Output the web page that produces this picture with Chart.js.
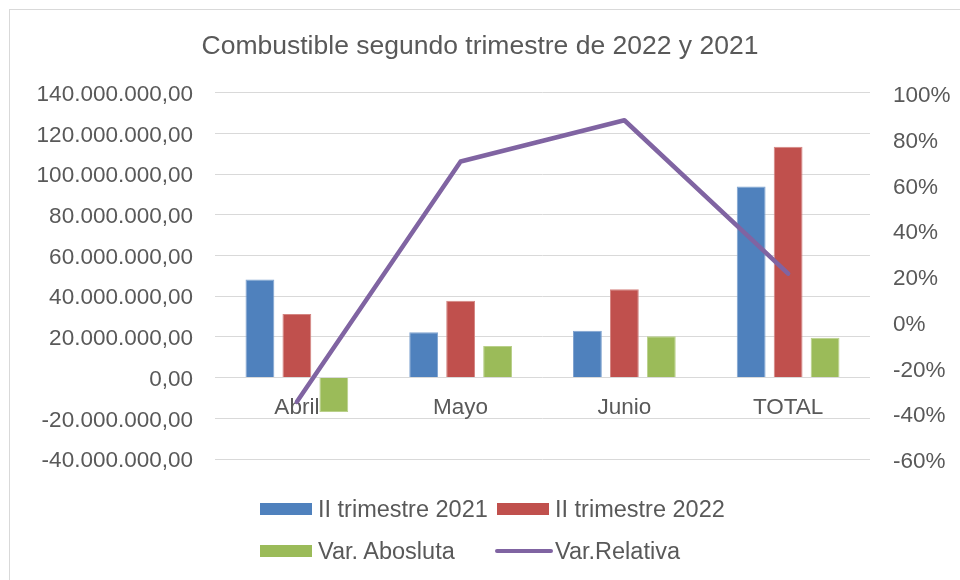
<!DOCTYPE html>
<html><head><meta charset="utf-8">
<script src="https://cdn.jsdelivr.net/npm/chart.js@4/dist/chart.umd.min.js"></script>
<style>
html,body{margin:0;padding:0;background:#fff;}
#wrap{position:relative;width:960px;height:580px;overflow:hidden;}
#frame{position:absolute;left:9px;top:9px;width:1000px;height:640px;border:1px solid #D9D9D9;box-sizing:border-box;}
canvas{position:absolute;left:0;top:0;}
#legend{position:absolute;left:260px;top:488px;display:grid;grid-template-columns:237px auto;grid-auto-rows:42px;font-family:"Liberation Sans",Arial,sans-serif;font-size:23.5px;color:#595959;}
.item{display:flex;align-items:center;white-space:nowrap;}
.box{width:52px;height:12px;margin-right:6px;}
.ln{width:58px;height:4px;border-radius:2px;margin-right:2px;}
</style></head><body>
<div id="wrap"><div id="frame"></div><canvas id="c" width="960" height="580"></canvas><div id="legend"></div></div>
<script>
const categories = ['Abril', 'Mayo', 'Junio', 'TOTAL'];
const trimestre2021 = [48200000, 22300000, 23100000, 93900000];
const trimestre2022 = [31300000, 37800000, 43400000, 113500000];
const varAbsoluta = [-16900000, 15500000, 20300000, 19600000];
const varRelativa = [-35, 70, 88, 21];
const seriesNames = ['II trimestre 2021', 'II trimestre 2022', 'Var. Abosluta', 'Var.Relativa'];
const titleText = 'Combustible segundo trimestre de 2022 y 2021';

const colors = ['#4F81BD', '#C0504D', '#9BBB59', '#8064A2'];
const edges = ['#7FA3D0', '#D48582', '#B9D08A', '#8064A2'];
const textColor = '#595959';
const fontFamily = '"Liberation Sans", Arial, sans-serif';

function fmtMoney(v) {
  const neg = v < 0;
  const s = Math.abs(Math.round(v)).toString().replace(/\B(?=(\d{3})+(?!\d))/g, '.');
  return (neg ? '-' : '') + s + ',00';
}

const barSeries = [trimestre2021, trimestre2022, varAbsoluta];
const datasets = barSeries.map((d, i) => ({
  type: 'bar',
  label: seriesNames[i],
  data: d,
  backgroundColor: colors[i],
  borderColor: edges[i],
  borderWidth: 1,
  yAxisID: 'y',
  order: 1,
  categoryPercentage: 0.677,
  barPercentage: 0.78
}));
datasets.push({
  type: 'line',
  label: seriesNames[3],
  data: varRelativa,
  borderColor: colors[3],
  backgroundColor: colors[3],
  borderWidth: 4.5,
  pointRadius: 0,
  borderCapStyle: 'round',
  borderJoinStyle: 'round',
  tension: 0,
  yAxisID: 'y1',
  order: 0
});

const chart = new Chart(document.getElementById('c'), {
  data: { labels: categories, datasets },
  options: {
    responsive: false,
    animation: false,
    layout: { padding: { left: 0, right: 0, top: 0, bottom: 121 } },
    plugins: {
      legend: { display: false },
      tooltip: { enabled: false },
      title: {
        display: true,
        text: titleText,
        color: textColor,
        font: { family: fontFamily, size: 26.5, weight: 'normal' },
        padding: { top: 31, bottom: 30 }
      }
    },
    scales: {
      x: {
        position: { y: 0 },
        offset: true,
        grid: { display: false, drawTicks: false },
        border: { display: false },
        ticks: { color: textColor, font: { family: fontFamily, size: 22.5 }, padding: 17, maxRotation: 0, autoSkip: false }
      },
      y: {
        position: 'left',
        min: -40000000,
        max: 140000000,
        grid: { color: '#D9D9D9', lineWidth: 1, drawTicks: false },
        border: { display: false },
        afterFit: s => { s.width = 215; },
        ticks: {
          stepSize: 20000000,
          padding: 22,
          labelOffset: 2,
          color: textColor,
          font: { family: fontFamily, size: 22.5 },
          callback: v => fmtMoney(v)
        }
      },
      y1: {
        position: 'right',
        min: -60,
        max: 100,
        grid: { display: false, drawTicks: false },
        border: { display: false },
        afterFit: s => { s.width = 90; },
        ticks: {
          stepSize: 20,
          padding: 23,
          labelOffset: 3,
          color: textColor,
          font: { family: fontFamily, size: 22.5 },
          callback: v => v + '%'
        }
      }
    }
  }
});

// legend built from the chart's datasets
const legendEl = document.getElementById('legend');
chart.data.datasets.forEach(ds => {
  const item = document.createElement('div');
  item.className = 'item';
  const mk = document.createElement('span');
  mk.className = ds.type === 'line' ? 'ln' : 'box';
  mk.style.background = ds.backgroundColor;
  if (ds.type === 'line') mk.style.marginLeft = '-2px';
  const tx = document.createElement('span');
  tx.textContent = ds.label;
  item.appendChild(mk);
  item.appendChild(tx);
  legendEl.appendChild(item);
});
</script>
</body></html>
